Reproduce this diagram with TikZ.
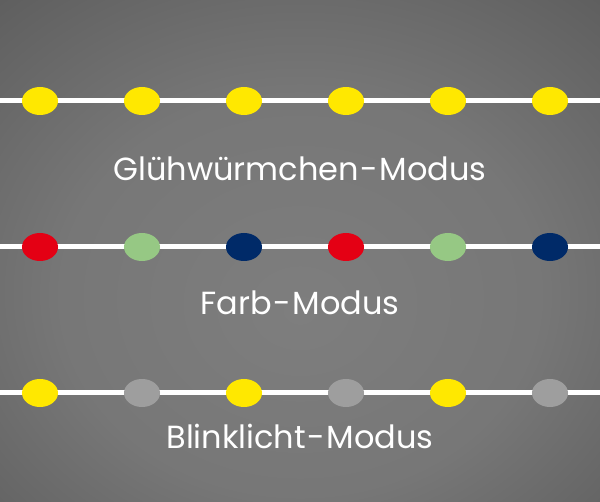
\documentclass[tikz,border=0pt]{standalone}
\usepackage{fontspec}
\setmainfont{Poppins}
\usetikzlibrary{shapes.geometric}
\definecolor{bgmid}{RGB}{126,126,126}
\definecolor{bgedge}{RGB}{78,78,78}
\definecolor{ledyellow}{RGB}{255,232,0}
\definecolor{ledred}{RGB}{228,0,20}
\definecolor{ledgreen}{RGB}{150,200,132}
\definecolor{ledblue}{RGB}{0,42,104}
\definecolor{ledoff}{RGB}{158,158,158}
\pgfdeclareradialshading{bgglow}{\pgfpoint{0bp}{-6bp}}{color(0bp)=(bgmid); color(20bp)=(bgmid!85!bgedge); color(50bp)=(bgedge); color(75bp)=(bgedge)}
\newcommand{\dash}{\kern1.5pt-\kern1.5pt}

\begin{document}
\begin{tikzpicture}[x=1pt,y=-1pt,line cap=butt,
  led/.style={ellipse,inner sep=0pt,minimum width=36pt,minimum height=28pt},
  wire/.style={white,line width=5pt},
  modus/.style={text=white,font=\fontsize{32}{38}\selectfont,anchor=base}]
\useasboundingbox (0,0) rectangle (600,502);
\shade[shading=bgglow] (0,0) rectangle (600,502);
% Gluehwuermchen
\coordinate (a0) at (0,101);
\coordinate (a7) at (600,101);
\draw[wire] (a0) -- (a7);
\node[led,fill=ledyellow] (a1) at (40,101) {};
\node[led,fill=ledyellow] (a2) at (142,101) {};
\node[led,fill=ledyellow] (a3) at (244,101) {};
\node[led,fill=ledyellow] (a4) at (346,101) {};
\node[led,fill=ledyellow] (a5) at (448,101) {};
\node[led,fill=ledyellow] (a6) at (550,101) {};
\node[modus] (glueh) at (300,181) {Glühwürmchen\dash Modus};
% Farb
\coordinate (b0) at (0,247);
\coordinate (b7) at (600,247);
\draw[wire] (b0) -- (b7);
\node[led,fill=ledred] (b1) at (40,247) {};
\node[led,fill=ledgreen] (b2) at (142,247) {};
\node[led,fill=ledblue] (b3) at (244,247) {};
\node[led,fill=ledred] (b4) at (346,247) {};
\node[led,fill=ledgreen] (b5) at (448,247) {};
\node[led,fill=ledblue] (b6) at (550,247) {};
\node[modus] (farb) at (300,315) {Farb\dash Modus};
% Blinklicht
\coordinate (c0) at (0,393);
\coordinate (c7) at (600,393);
\draw[wire] (c0) -- (c7);
\node[led,fill=ledyellow] (c1) at (40,393) {};
\node[led,fill=ledoff] (c2) at (142,393) {};
\node[led,fill=ledyellow] (c3) at (244,393) {};
\node[led,fill=ledoff] (c4) at (346,393) {};
\node[led,fill=ledyellow] (c5) at (448,393) {};
\node[led,fill=ledoff] (c6) at (550,393) {};
\node[modus] (blink) at (300,449) {Blinklicht\dash Modus};
\end{tikzpicture}
\end{document}
